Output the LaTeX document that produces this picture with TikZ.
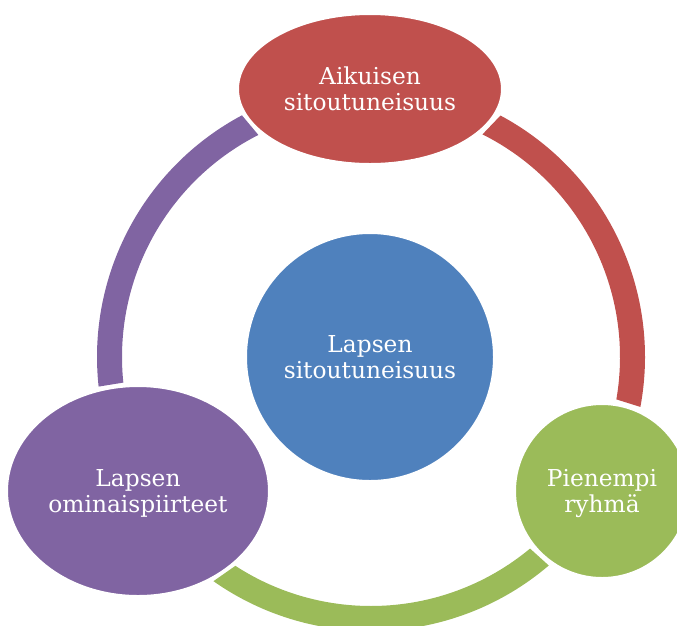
\documentclass[tikz,border=0pt]{standalone}
\usepackage{fontspec}
\setmainfont{DejaVu Serif}
\usetikzlibrary{shapes.geometric,calc}

\definecolor{segred}{HTML}{C0504D}
\definecolor{segblue}{HTML}{4F81BD}
\definecolor{seggreen}{HTML}{9BBB59}
\definecolor{segpurple}{HTML}{8064A2}

% One ring segment: colour, outer start/end angle, inner start/end angle
\newcommand\ringseg[5]{%
  \fill[#1] ($(ring)+(#2:274)$) arc[start angle=#2, end angle=#3, radius=274]
    -- ($(ring)+(#5:249)$) arc[start angle=#5, end angle=#4, radius=249] -- cycle;}

\begin{document}
\begin{tikzpicture}[x=1pt, y=-1pt,
  bubble/.style={ellipse, fill=#1, draw=white, line width=3pt, inner sep=0pt,
    text=white, align=center, font=\fontsize{23.3}{26.7}\selectfont,
    text height=43.6pt, text depth=0pt}]
\useasboundingbox (0,0) rectangle (677,625);
\clip (0,0) rectangle (677,625);

\coordinate (ring) at (371,357);

% coloured ring segments behind the bubbles
\ringseg{segred}{-61.8}{10.5}{-63.4}{9.8}
\ringseg{seggreen}{49.55}{125.1}{50.3}{123.0}
\ringseg{segpurple}{173.8}{241.9}{174.1}{243.1}

% bubbles
\node[bubble=segred, minimum width=265pt, minimum height=151pt] (adult) at (370,89)
  {Aikuisen\\sitoutuneisuus};
\node[bubble=segblue, circle, minimum size=249pt] (child) at (370,357)
  {Lapsen\\sitoutuneisuus};
\node[bubble=seggreen, circle, minimum size=175pt] (group) at (602,491)
  {Pienempi\\ryhmä};
\node[bubble=segpurple, minimum width=263pt, minimum height=211pt] (traits) at (138,491)
  {Lapsen\\ominaispiirteet};
\end{tikzpicture}
\end{document}
